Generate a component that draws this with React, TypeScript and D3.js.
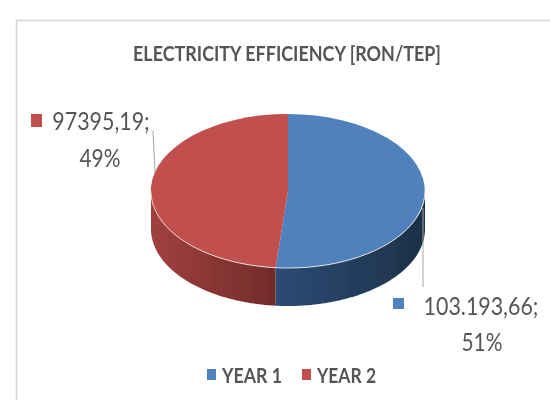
import React from "react";
import * as d3 from "d3";

const categories = ["YEAR 1", "YEAR 2"];
const values = [103193.66, 97395.19];
const valueLabels = ["103.193,66;", "97395,19;"];
const percentLabels = ["51%", "49%"];
const colors = ["#4f81bd", "#c0504d"];
const sideColors = [
  ["#2b4b75", "#1d3148"],
  ["#a0413e", "#712b29"],
];

const width = 550;
const height = 400;
const cx = 288;
const cy = 191;
const rx = 137;
const ry = 77;
const depth = 38;
const font = "Lato, 'Open Sans', sans-serif";
const textColor = "#555555";

const pie = d3.pie<number>().sort(null);
const arc = d3.arc<d3.PieArcDatum<number>>().innerRadius(0).outerRadius(1);

// d3 angles start at 12 o'clock and run clockwise
const px = (a: number) => rx * Math.sin(a);
const py = (a: number) => -ry * Math.cos(a);

function frontAngles(start: number, end: number) {
  const from = Math.max(start, Math.PI / 2);
  const to = Math.min(end, (3 * Math.PI) / 2);
  if (from >= to) return null;
  return d3.range(from, to, 0.02).concat(to);
}

function sidePath(start: number, end: number) {
  const angles = frontAngles(start, end);
  if (!angles) return null;
  const top = angles.map((a) => [px(a), py(a)] as [number, number]);
  const bottom = angles
    .map((a) => [px(a), py(a) + depth] as [number, number])
    .reverse();
  return d3.line()(top.concat(bottom)) + "Z";
}

function rimPath(start: number, end: number) {
  const angles = frontAngles(start, end);
  if (!angles) return null;
  return d3.line()(angles.map((a) => [px(a), py(a)] as [number, number]));
}

export default function App() {
  const slices = pie(values);
  return (
    <svg
      width={width}
      height={height}
      style={{ position: "absolute", left: 0, top: 0, background: "#fff" }}
      fontFamily={font}
    >
      <defs>
        <filter id="soft" x="-5%" y="-5%" width="110%" height="110%">
          <feGaussianBlur stdDeviation="0.55" />
        </filter>
        {slices.map((s, i) => (
          <linearGradient key={i} id={`side${i}`} x1="1" x2="0" y1="0" y2="0">
            <stop offset="0%" stopColor={sideColors[i][1]} />
            <stop offset="100%" stopColor={sideColors[i][0]} />
          </linearGradient>
        ))}
      </defs>
      <g filter="url(#soft)">
        <path d="M16.5,400V20.5H550" fill="none" stroke="#d4d4d4" strokeWidth={1.5} />
        <text x={287} y={61} textAnchor="middle" fontSize={21} fontWeight={700} fill={textColor} textLength={308} lengthAdjust="spacingAndGlyphs">
          ELECTRICITY EFFICIENCY [RON/TEP]
        </text>

        <g transform={`translate(${cx},${cy})`}>
          {slices.map((s, i) => {
            const d = sidePath(s.startAngle, s.endAngle);
            return d && <path key={i} d={d} fill={`url(#side${i})`} />;
          })}
          <g transform={`scale(${rx},${ry})`}>
            {slices.map((s, i) => (
              <path key={i} d={arc(s) ?? ""} fill={colors[i]} />
            ))}
          </g>
          {slices.map((s, i) => {
            const d = rimPath(s.startAngle, s.endAngle);
            return d && <path key={i} d={d} fill="none" stroke="#f3e6e4" strokeWidth={0.9} />;
          })}
        </g>

        <path d="M153,131L155,173" stroke="#a6a6a6" strokeWidth={1} fill="none" />
        <path d="M423,208V287" stroke="#a6a6a6" strokeWidth={1} fill="none" />

        <rect x={31} y={114} width={11} height={13} fill={colors[1]} />
        <text transform="translate(101,130) scale(0.84,1)" textAnchor="middle" fontSize={25.5} fill={textColor}>
          {valueLabels[1]}
        </text>
        <text x={100} y={167} textAnchor="middle" fontSize={25.5} fill={textColor} textLength={41} lengthAdjust="spacingAndGlyphs">
          {percentLabels[1]}
        </text>

        <rect x={393} y={298} width={11} height={11} fill={colors[0]} />
        <text transform="translate(481,315) scale(0.84,1)" textAnchor="middle" fontSize={25.5} fill={textColor}>
          {valueLabels[0]}
        </text>
        <text x={482} y={351} textAnchor="middle" fontSize={25.5} fill={textColor} textLength={41} lengthAdjust="spacingAndGlyphs">
          {percentLabels[0]}
        </text>

        <rect x={207} y={369} width={9} height={11} fill={colors[0]} />
        <text x={222} y={383} fontSize={20.5} fontWeight={700} fill={textColor} textLength={60} lengthAdjust="spacingAndGlyphs">
          {categories[0]}
        </text>
        <rect x={302} y={369} width={9} height={11} fill={colors[1]} />
        <text x={317} y={383} fontSize={20.5} fontWeight={700} fill={textColor} textLength={59} lengthAdjust="spacingAndGlyphs">
          {categories[1]}
        </text>
      </g>
    </svg>
  );
}
